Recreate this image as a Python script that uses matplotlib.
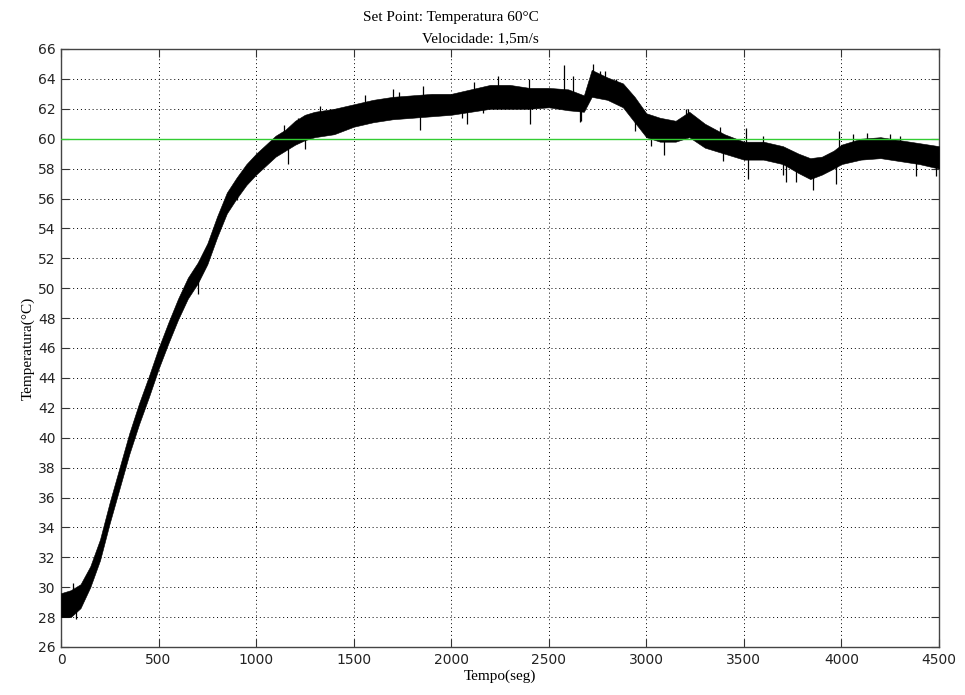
import numpy as np
import matplotlib
matplotlib.use("Agg")
import matplotlib.pyplot as plt

# Envelope of the noisy temperature record
time_s = [0, 50, 100, 150, 200, 250, 300, 350, 400, 450, 500, 550, 600, 650, 700, 750,
          800, 850, 900, 950, 1000, 1050, 1100, 1150, 1200, 1250, 1300, 1400, 1500, 1600,
          1700, 1800, 1900, 2000, 2100, 2200, 2300, 2400, 2500, 2600, 2680, 2720, 2800,
          2880, 2940, 3000, 3070, 3150, 3220, 3300, 3400, 3500, 3600, 3700, 3780, 3840,
          3900, 3960, 4000, 4100, 4200, 4300, 4400, 4500]
temp_low = [28.0, 28.0, 28.6, 30.0, 31.8, 34.3, 36.6, 38.9, 40.9, 42.7, 44.6, 46.3, 47.9,
            49.3, 50.3, 51.6, 53.4, 55.0, 56.0, 56.9, 57.6, 58.2, 58.8, 59.2, 59.6, 59.9,
            60.1, 60.3, 60.8, 61.1, 61.3, 61.4, 61.5, 61.6, 61.8, 62.0, 62.0, 62.0, 62.1,
            61.9, 61.8, 62.8, 62.6, 62.1, 61.1, 60.1, 59.8, 59.8, 60.1, 59.4, 59.0, 58.6,
            58.6, 58.3, 57.7, 57.3, 57.6, 58.0, 58.3, 58.6, 58.7, 58.5, 58.3, 58.0]
temp_high = [29.6, 29.8, 30.2, 31.4, 33.2, 35.7, 38.0, 40.3, 42.3, 44.1, 46.0, 47.7, 49.3,
             50.7, 51.7, 53.0, 54.8, 56.4, 57.4, 58.3, 59.0, 59.6, 60.2, 60.6, 61.2, 61.6,
             61.8, 62.0, 62.3, 62.6, 62.8, 62.9, 63.0, 63.0, 63.3, 63.6, 63.6, 63.4, 63.4,
             63.3, 62.9, 64.6, 64.1, 63.7, 62.8, 61.7, 61.4, 61.2, 61.8, 61.0, 60.3, 59.8,
             59.8, 59.5, 59.0, 58.7, 58.8, 59.2, 59.6, 60.0, 60.1, 59.9, 59.7, 59.5]

# Individual noise spikes (time, tip temperature)
spike_t = [1145, 1213, 1330, 1560, 1700, 1730, 1855, 2115, 2240, 2400, 2580, 2625, 2727,
           2760, 2790, 2846, 3205, 3213, 3376, 3512, 3598, 3990, 4060, 4130, 4250, 4299,
           1166, 1250, 1840, 2055, 2080, 2165, 2403, 2660, 2664, 2940, 3025, 3093, 3392,
           3521, 3700, 3717, 3768, 3854, 3973, 4384, 4486, 700, 903, 60, 75]
spike_v = [60.9, 61.4, 62.2, 62.9, 63.3, 63.1, 63.5, 63.8, 64.2, 64.0, 64.9, 64.2, 65.0,
           64.5, 64.5, 64.0, 62.0, 62.0, 60.8, 60.7, 60.2, 60.5, 60.3, 60.4, 60.3, 60.2,
           58.3, 59.3, 60.6, 61.4, 61.0, 61.7, 61.0, 61.1, 61.2, 60.5, 59.5, 58.9, 58.5,
           57.3, 57.6, 57.1, 57.1, 56.6, 57.0, 57.5, 57.5, 49.6, 55.9, 30.3, 27.9]

set_point = 60
x_ticks = [0, 500, 1000, 1500, 2000, 2500, 3000, 3500, 4000, 4500]
y_ticks = list(range(26, 67, 2))

fig = plt.figure(figsize=(9.65, 6.95), dpi=100)
ax = fig.add_axes([61/965, 48/695, (939-61)/965, (647-49)/695])

ax.fill_between(time_s, temp_low, temp_high, color="black", linewidth=0.4,
                edgecolor="black", zorder=3)
mid = (np.array(temp_low) + np.array(temp_high)) / 2
base = np.interp(spike_t, time_s, mid)
ax.vlines(spike_t, base, spike_v, color="black", linewidth=0.9, zorder=3)
ax.axhline(set_point, color="#33cc33", linewidth=1.0, zorder=4)

ax.set_xlim(0, 4500)
ax.set_ylim(26, 66)
ax.set_xticks(x_ticks)
ax.set_yticks(y_ticks)
ax.grid(True, color="black", linestyle=(0, (1, 3)), linewidth=0.7)
ax.tick_params(direction="in", length=6, top=True, right=True, labelsize=10,
               color="#333333", pad=4)
for lab in ax.get_xticklabels() + ax.get_yticklabels():
    lab.set_fontfamily("DejaVu Sans")
    lab.set_color("#222222")
for s in ax.spines.values():
    s.set_color("#444444")
    s.set_linewidth(1.0)

serif = "Liberation Serif"
ax.set_xlabel("Tempo(seg)", fontfamily=serif, fontsize=11, labelpad=2)
ax.set_ylabel("Temperatura(°C)", fontfamily=serif, fontsize=11, labelpad=2)
fig.text(451/965, 1 - 17/695, "Set Point: Temperatura 60°C", fontfamily=serif,
         fontsize=11, ha="center", va="center")
fig.text(422/965, 1 - 39/695, "Velocidade: 1,5m/s", fontfamily=serif,
         fontsize=11, ha="left", va="center")

fig.savefig("out.png", dpi=100)
